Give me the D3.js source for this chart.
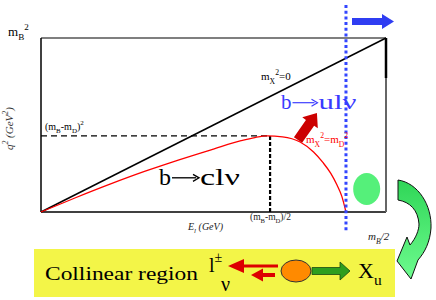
<!DOCTYPE html>
<html>
<head>
<meta charset="utf-8">
<script src="https://cdn.jsdelivr.net/npm/d3@7"></script>
<style>
  body { margin: 0; background: #fff; }
  svg { display: block; }
  text { font-family: "Liberation Serif", "DejaVu Serif", serif; }
</style>
</head>
<body>
<div id="chart"></div>
<script>
(function () {
    // Kinematic limits in units of E_l/(mB/2) and q2/mB^2
    const diagX = [0, 1];           // m_X^2 = 0 boundary
    const diagY = [0, 1];
    const charmX = [0, 0.10, 0.20, 0.30, 0.40, 0.50, 0.58, 0.62, 0.655, 0.70, 0.751, 0.79, 0.817, 0.84, 0.858, 0.872, 0.884];
    const charmY = [0, 0.082, 0.160, 0.233, 0.300, 0.362, 0.410, 0.428, 0.437, 0.432, 0.402, 0.345, 0.285, 0.222, 0.155, 0.090, 0];
    const endpointCharm = 0.884;    // blue dotted cut
    const kneeX = 0.664;            // (mB-mD)/2
    const kneeY = 0.437;            // (mB-mD)^2

    const width = 436, height = 300;
    const svg = d3.select("#chart").append("svg")
        .attr("width", width).attr("height", height);

    const defs = svg.append("defs");
    const grad = defs.append("linearGradient").attr("id", "greenGrad")
        .attr("x1", 0).attr("y1", 0).attr("x2", 0).attr("y2", 1);
    grad.append("stop").attr("offset", "0%").attr("stop-color", "#2fd657");
    grad.append("stop").attr("offset", "100%").attr("stop-color", "#6dfb8e");

    const x = d3.scaleLinear().domain([0, 1]).range([41, 386]);
    const y = d3.scaleLinear().domain([0, 1]).range([212, 38]);

    // helper for text with sub/superscripts
    function rich(px, py, parts, size, color, extra) {
        const t = svg.append("text").attr("x", px).attr("y", py)
            .attr("font-size", size).attr("fill", color || "#000");
        if (extra) extra(t);
        let off = 0;
        parts.forEach(([s, kind]) => {
            const target = kind === "sub" ? size * 0.32 : kind === "sup" ? -size * 0.5 : 0;
            t.append("tspan")
                .attr("dy", target - off)
                .attr("font-size", kind ? size * 0.7 : size)
                .text(s);
            off = target;
        });
        return t;
    }

    // decay label: b, long arrow, rest
    function decay(px, py, size, color, arrowW, rest, restW) {
        const g = svg.append("g").attr("fill", color);
        g.append("text").attr("x", px).attr("y", py).attr("font-size", size).text("b");
        const ax = px + size * 0.5 + 1, ay = py - size * 0.3;
        g.append("line").attr("x1", ax).attr("x2", ax + arrowW - 3).attr("y1", ay).attr("y2", ay)
            .attr("stroke", color).attr("stroke-width", size / 18);
        g.append("path")
            .attr("d", `M${ax + arrowW - 6},${ay - 3.5} L${ax + arrowW},${ay} L${ax + arrowW - 6},${ay + 3.5}`)
            .attr("fill", "none").attr("stroke", color).attr("stroke-width", size / 18);
        g.append("text").attr("x", ax + arrowW + 1).attr("y", py).attr("font-size", size)
            .attr("textLength", restW).attr("lengthAdjust", "spacingAndGlyphs").text(rest);
    }

    // frame
    svg.append("line").attr("x1", x(0)).attr("x2", x(1)).attr("y1", y(1)).attr("y2", y(1))
        .attr("stroke", "#000").attr("stroke-width", 1.2);
    svg.append("line").attr("x1", x(0)).attr("x2", x(1)).attr("y1", y(0)).attr("y2", y(0))
        .attr("stroke", "#000").attr("stroke-width", 1.5);
    svg.append("line").attr("x1", x(0)).attr("x2", x(0)).attr("y1", y(1)).attr("y2", y(0))
        .attr("stroke", "#000").attr("stroke-width", 1.5);
    svg.append("line").attr("x1", x(1)).attr("x2", x(1)).attr("y1", y(0.77)).attr("y2", y(0))
        .attr("stroke", "#666").attr("stroke-width", 2);
    svg.append("line").attr("x1", x(1)).attr("x2", x(1)).attr("y1", y(1)).attr("y2", y(0.77))
        .attr("stroke", "#000").attr("stroke-width", 2.5);

    // dashed knee lines
    svg.append("line").attr("x1", x(0)).attr("x2", x(kneeX)).attr("y1", y(kneeY)).attr("y2", y(kneeY))
        .attr("stroke", "#000").attr("stroke-width", 1.3).attr("stroke-dasharray", "6,4");
    svg.append("line").attr("x1", x(kneeX)).attr("x2", x(kneeX)).attr("y1", y(kneeY)).attr("y2", y(0))
        .attr("stroke", "#000").attr("stroke-width", 2.2).attr("stroke-dasharray", "4,2");

    // m_X^2 = 0 diagonal
    const line = d3.line().x(d => x(d[0])).y(d => y(d[1]));
    svg.append("path").datum(d3.zip(diagX, diagY)).attr("d", line)
        .attr("fill", "none").attr("stroke", "#000").attr("stroke-width", 1.5);

    // charm boundary
    svg.append("path").datum(d3.zip(charmX, charmY))
        .attr("d", line.curve(d3.curveMonotoneX))
        .attr("fill", "none").attr("stroke", "#f00").attr("stroke-width", 1.3);

    // green blob in endpoint region
    svg.append("ellipse").attr("cx", x(0.944)).attr("cy", y(0.132))
        .attr("rx", 13.5).attr("ry", 16).attr("fill", "#55f07a");

    // blue dotted cut
    svg.append("line").attr("x1", x(endpointCharm)).attr("x2", x(endpointCharm))
        .attr("y1", 5).attr("y2", 231)
        .attr("stroke", "#3346ff").attr("stroke-width", 3).attr("stroke-dasharray", "3,2.7");

    // blue arrow to the right
    svg.append("path")
        .attr("d", "M352,18 L382,18 L382,14 L394,21.5 L382,29 L382,25 L352,25 Z")
        .attr("fill", "#2f3df2");

    // dark red arrow
    svg.append("path")
        .attr("d", "M0,-5 L21,-5 L21,-9.5 L33,0 L21,9.5 L21,5 L0,5 Z")
        .attr("transform", "translate(298,140) rotate(-55)")
        .attr("fill", "#cc0000");

    // labels in plot
    rich(8, 36, [["m"], ["B", "sub"], ["2", "sup"]], 13);
    rich(45, 130, [["(m"], ["B", "sub"], ["-m"], ["D", "sub"], [")"], ["2", "sup"]], 10);
    rich(261, 80, [["m"], ["X", "sub"], ["2", "sup"], ["=0"]], 11);
    decay(281, 109, 21, "#3a3aff", 25, "ul\u03bd", 38);
    rich(306, 143, [["m"], ["X", "sub"], ["2", "sup"], ["=m"], ["D", "sub"], ["2", "sup"]], 11, "#f00");
    decay(159, 185, 24, "#000", 27, "cl\u03bd", 40);
    rich(250, 220, [["(m"], ["B", "sub"], ["-m"], ["D", "sub"], [")/2"]], 9.5, "#222");
    rich(188, 230, [["E"], ["l", "sub"], [" (GeV)"]], 10, "#222", t => t.attr("font-style", "italic"));
    rich(368, 240, [["m"], ["B", "sub"], ["/2"]], 11, "#222", t => t.attr("font-style", "italic"));
    rich(0, 0, [["q"], ["2", "sup"], [" (GeV"], ["2", "sup"], [")"]], 11, "#333",
        t => t.attr("font-style", "italic").attr("transform", "translate(13,150) rotate(-90)"));

    // curved green arrow
    svg.append("path")
        .attr("d", "M398,180 C418,183 432,205 431,228 C430,242 425,252 418,260 L411,279 L397,261 L407,237 L410,245 C416,238 419,230 419,224 C418,210 410,202 398,200 Z")
        .attr("fill", "url(#greenGrad)").attr("stroke", "#111").attr("stroke-width", 1);

    // collinear region box
    svg.append("rect").attr("x", 34).attr("y", 249).attr("width", 361).attr("height", 48)
        .attr("fill", "#f3f548");
    svg.append("text").attr("x", 45).attr("y", 280).attr("font-size", 18)
        .attr("textLength", 153).attr("lengthAdjust", "spacingAndGlyphs")
        .text("Collinear region");
    rich(209, 272, [["l"], ["\u00b1", "sup"]], 20);
    svg.append("text").attr("x", 221).attr("y", 291).attr("font-size", 20).text("\u03bd");

    // red lepton/neutrino arrows
    svg.append("path")
        .attr("d", "M278,264.5 L244,264.5 L244,259 L228,266 L244,273 L244,267.5 L278,267.5 Z")
        .attr("fill", "#dd0000");
    svg.append("path")
        .attr("d", "M275,273 L263,273 L263,268.5 L251,275 L263,281.5 L263,277 L275,277 Z")
        .attr("fill", "#dd0000");

    svg.append("ellipse").attr("cx", 296).attr("cy", 271).attr("rx", 15).attr("ry", 11)
        .attr("fill", "#ff8a00").attr("stroke", "#333").attr("stroke-width", 1);

    svg.append("path")
        .attr("d", "M312,267.5 L340,267.5 L340,262 L350,271 L340,280 L340,274.5 L312,274.5 Z")
        .attr("fill", "#2e9e1e").attr("stroke", "#1a4a12").attr("stroke-width", 0.8);

    rich(358, 278, [["X"], ["u", "sub"]], 22);
})();
</script>
</body>
</html>
